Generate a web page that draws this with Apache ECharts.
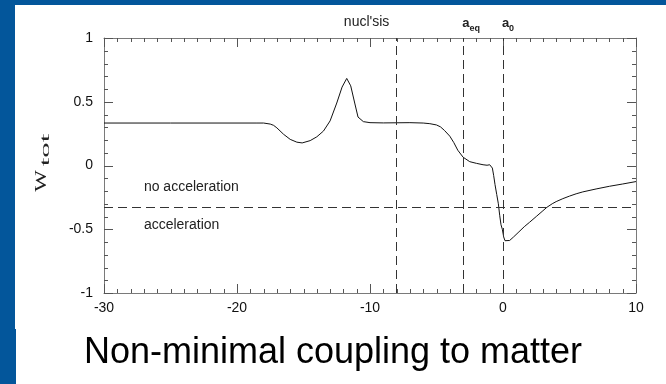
<!DOCTYPE html>
<html>
<head>
<meta charset="utf-8">
<script src="https://cdn.jsdelivr.net/npm/echarts@6/dist/echarts.min.js"></script>
<style>
  html, body { margin:0; padding:0; width:666px; height:384px; overflow:hidden; background:#03569b; }
  #panelA { position:absolute; left:15px; top:5px; width:651px; height:324px; background:#fff; }
  #panelB { position:absolute; left:16px; top:329px; width:650px; height:55px; background:#fff; }
  #chart { position:absolute; left:0; top:0; width:666px; height:384px; }
</style>
</head>
<body>
<div id="panelA"></div>
<div id="panelB"></div>
<div id="chart"></div>
<script>
// ---- data ----
const xValues = [-30, -25, -20, -18.5, -18, -17.5, -17.25, -17, -16.5, -16, -15.5, -15.1, -14.5, -14, -13.5, -13, -12.5, -12.1, -11.75, -11.45, -11.15, -10.9, -10.5, -10, -9, -8, -7, -6, -5.5, -5, -4.7, -4.4, -4.0, -3.7, -3.4, -3.0, -2.5, -2.0, -1.5, -1.2, -1.0, -0.9, -0.8, -0.7, -0.6, -0.47, -0.35, -0.25, -0.15, -0.05, 0.05, 0.15, 0.3, 0.5, 0.8, 1.2, 1.6, 2.0, 2.5, 3.0, 3.3, 3.7, 4.0, 4.5, 5.0, 5.5, 6.0, 7.0, 8.0, 9.0, 10.0];
const wValues = [0.333, 0.333, 0.333, 0.333, 0.333, 0.325, 0.315, 0.295, 0.245, 0.205, 0.183, 0.177, 0.195, 0.225, 0.27, 0.35, 0.49, 0.615, 0.683, 0.625, 0.49, 0.38, 0.344, 0.336, 0.334, 0.335, 0.336, 0.333, 0.328, 0.318, 0.303, 0.275, 0.23, 0.18, 0.12, 0.065, 0.03, 0.017, 0.006, 0.002, 0.006, 0.008, -0.02, -0.08, -0.15, -0.228, -0.3, -0.39, -0.465, -0.5, -0.56, -0.59, -0.6, -0.588, -0.56, -0.52, -0.48, -0.445, -0.4, -0.355, -0.328, -0.3, -0.283, -0.26, -0.24, -0.222, -0.207, -0.184, -0.163, -0.145, -0.126];
const xTickLabels = ['-30', '-20', '-10', '0', '10'];
const yTickLabels = ['-1', '-0.5', '0', '0.5', '1'];
const xMajorTicks = [-30, -20, -10, 0, 10];
const xMinorTicks = [-29, -28, -27, -26, -25, -24, -23, -22, -21, -19, -18, -17, -16, -15, -14, -13, -12, -11, -9, -8, -7, -6, -5, -4, -3, -2, -1, 1, 2, 3, 4, 5, 6, 7, 8, 9];
const yMajorTicks = [-1, -0.5, 0, 0.5, 1];
const yMinorTicks = [-0.9, -0.8, -0.7, -0.6, -0.4, -0.3, -0.2, -0.1, 0.1, 0.2, 0.3, 0.4, 0.6, 0.7, 0.8, 0.9];
const epochX = [-8, -3, 0];
const epochLabels = ["nucl'sis", '{a|a}{s|eq}', '{a|a}{s|0}'];
const accelThreshold = -1 / 3;
const regionLabels = ['no acceleration', 'acceleration'];
const regionLabelX = -27;
const regionLabelY = [-0.165, -0.457];
const titleText = 'Non-minimal coupling to matter';

const X_MIN = -30, X_MAX = 10, Y_MIN = -1, Y_MAX = 1;
const FONT = '"Liberation Sans", Arial, Helvetica, sans-serif';
const axisGrey = '#7a7a7a';
const tickGrey = '#555';

function xAxisCfg(pos, showLabels) {
  return {
    type: 'value', position: pos, min: X_MIN, max: X_MAX, interval: 10,
    axisLine: { show: true, onZero: false, lineStyle: { color: axisGrey, width: 1 } },
    axisTick: { show: false }, minorTick: { show: false },
    splitLine: { show: false },
    axisLabel: showLabels ? { show: true, margin: 8, color: '#111', fontSize: 14, fontFamily: FONT,
      formatter: v => xTickLabels[Math.round((v - X_MIN) / 10)] } : { show: false }
  };
}
function yAxisCfg(pos, showLabels) {
  return {
    type: 'value', position: pos, min: Y_MIN, max: Y_MAX, interval: 0.5,
    axisLine: { show: true, onZero: false, lineStyle: { color: axisGrey, width: 1 } },
    axisTick: { show: false }, minorTick: { show: false },
    splitLine: { show: false },
    axisLabel: showLabels ? { show: true, margin: 11, color: '#111', fontSize: 14, fontFamily: FONT,
      padding: [4, 0, 0, 0],
      formatter: v => yTickLabels[Math.round((v - Y_MIN) / 0.5)] } : { show: false }
  };
}

// tick marks (inward, mirrored on all four sides), placed through the axis scales
// item: [x, y, kind(0 = x tick, 1 = y tick), major(1/0)]
const tickData = []
  .concat(xMajorTicks.map(v => [v, Y_MIN, 0, 1]))
  .concat(xMinorTicks.map(v => [v, Y_MIN, 0, 0]))
  .concat(yMajorTicks.map(v => [X_MIN, v, 1, 1]))
  .concat(yMinorTicks.map(v => [X_MIN, v, 1, 0]));

function renderTick(params, api) {
  const kind = api.value(2);
  const len = api.value(3) ? 9 : 4;
  const st = { stroke: tickGrey, lineWidth: 1 };
  if (kind === 0) {
    const v = api.value(0);
    const b = api.coord([v, Y_MIN]);
    const t = api.coord([v, Y_MAX]);
    const x = Math.round(b[0]) + 0.5;
    return { type: 'group', children: [
      { type: 'line', shape: { x1: x, y1: b[1], x2: x, y2: b[1] - len }, style: st },
      { type: 'line', shape: { x1: x, y1: t[1], x2: x, y2: t[1] + len }, style: st }
    ] };
  }
  const v = api.value(1);
  const l = api.coord([X_MIN, v]);
  const r = api.coord([X_MAX, v]);
  const y = Math.round(l[1]) + 0.5;
  return { type: 'group', children: [
    { type: 'line', shape: { x1: l[0], y1: y, x2: l[0] + len, y2: y }, style: st },
    { type: 'line', shape: { x1: r[0], y1: y, x2: r[0] - len, y2: y }, style: st }
  ] };
}

const chart = echarts.init(document.getElementById('chart'), null, { renderer: 'canvas' });

const markPointData = epochX.map((x, i) => ({
  coord: [x, 1],
  label: {
    formatter: epochLabels[i],
    offset: i === 0 ? [-30, -16] : (i === 1 ? [8, -15] : [5, -15])
  }
})).concat(regionLabels.map((t, i) => ({
  coord: [regionLabelX, regionLabelY[i]],
  label: { formatter: t, align: 'left', offset: [0, 1] }
})));

chart.setOption({
  animation: false,
  grid: { left: 104, right: 30, top: 38, bottom: 91 },
  title: {
    text: titleText, left: 'center', top: 330,
    textStyle: { fontSize: 36, fontWeight: 'normal', fontFamily: FONT, color: '#000' }
  },
  xAxis: [xAxisCfg('bottom', true), xAxisCfg('top', false)],
  yAxis: [yAxisCfg('left', true), yAxisCfg('right', false)],
  graphic: [
    {
      type: 'text', x: 41.5, y: 181, rotation: Math.PI / 2, scaleX: 1.35, scaleY: 0.95,
      style: { text: 'W', x: 0, y: 0, align: 'center', verticalAlign: 'middle',
               font: '17px "Liberation Serif", "Times New Roman", serif', fill: '#222' }
    },
    {
      type: 'text', x: 46, y: 150, rotation: Math.PI / 2, scaleX: 2.2, scaleY: 0.95,
      style: { text: 'tot', x: 0, y: 0, align: 'center', verticalAlign: 'middle',
               font: '14px "Liberation Serif", "Times New Roman", serif', fill: '#222' }
    }
  ],
  series: [
    {
      type: 'custom',
      xAxisIndex: 0, yAxisIndex: 0,
      silent: true, clip: false,
      renderItem: renderTick,
      data: tickData,
      z: 3
    },
    {
      type: 'line',
      xAxisIndex: 0, yAxisIndex: 0,
      data: xValues.map((x, i) => [x, wValues[i]]),
      showSymbol: false, symbol: 'none',
      lineStyle: { color: '#111', width: 1 },
      markLine: {
        silent: true, symbol: 'none', animation: false,
        label: { show: false },
        lineStyle: { color: '#333', width: 1, type: [9, 5] },
        data: epochX.map(x => ({ xAxis: x })).concat([{ yAxis: accelThreshold }])
      },
      markPoint: {
        silent: true, symbol: 'circle', symbolSize: 1, animation: false,
        itemStyle: { color: 'rgba(0,0,0,0)' },
        label: {
          show: true, position: 'inside', color: '#222', fontSize: 14, fontFamily: FONT,
          rich: {
            a: { fontSize: 13, fontWeight: 'bold', fontFamily: FONT, color: '#222', lineHeight: 20, verticalAlign: 'middle' },
            s: { fontSize: 9, fontWeight: 'bold', fontFamily: FONT, color: '#222', lineHeight: 10, verticalAlign: 'bottom' }
          }
        },
        data: markPointData
      }
    }
  ]
});
</script>
</body>
</html>
